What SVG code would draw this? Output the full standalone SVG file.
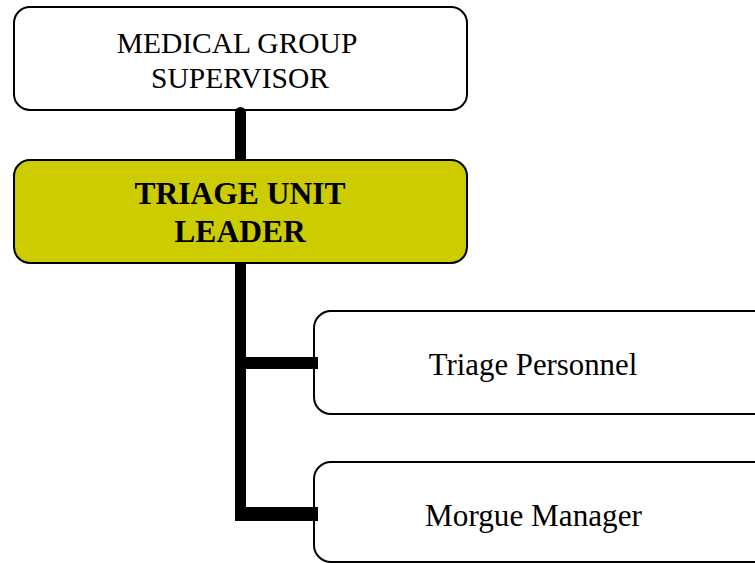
<svg xmlns="http://www.w3.org/2000/svg" width="755" height="563" viewBox="0 0 755 563">
<style>
.box{fill:#ffffff;stroke:#000000;stroke-width:2}
.lead{fill:#cccc00;stroke:#000000;stroke-width:2}
.t{font-family:"Liberation Serif","Times New Roman",serif;fill:#000000;text-anchor:middle}
.c{stroke:#000000;fill:none;stroke-linecap:butt}
</style>
<rect width="755" height="563" fill="#ffffff"/>
<g id="node-supervisor">
<rect class="box" x="14" y="7" width="453" height="103" rx="16"/>
<text class="t" x="237" y="53" font-size="29.5">MEDICAL GROUP</text>
<text class="t" x="240" y="88" font-size="29.5">SUPERVISOR</text>
</g>
<g id="node-leader">
<rect class="lead" x="14" y="160" width="453" height="103" rx="16"/>
<text class="t" x="240" y="204" font-size="31.5" font-weight="bold">TRIAGE UNIT</text>
<text class="t" x="240" y="242" font-size="31.5" font-weight="bold">LEADER</text>
</g>
<g id="node-personnel">
<rect class="box" x="314" y="311" width="470" height="103" rx="17"/>
<text class="t" x="533" y="375" font-size="30.8">Triage Personnel</text>
</g>
<g id="node-morgue">
<rect class="box" x="314" y="462" width="470" height="100" rx="17"/>
<text class="t" x="533.5" y="526" font-size="31.2">Morgue Manager</text>
</g>
<g id="connectors">
<path d="M235 160 V112.5 A5.5 5.5 0 0 1 246 112.5 V160 Z" fill="#000000"/>
<path class="c" d="M240.5 263 V521" stroke-width="11"/>
<path class="c" d="M240 363 H318" stroke-width="12"/>
<path class="c" d="M240 514 H318" stroke-width="14"/>
</g>
</svg>
